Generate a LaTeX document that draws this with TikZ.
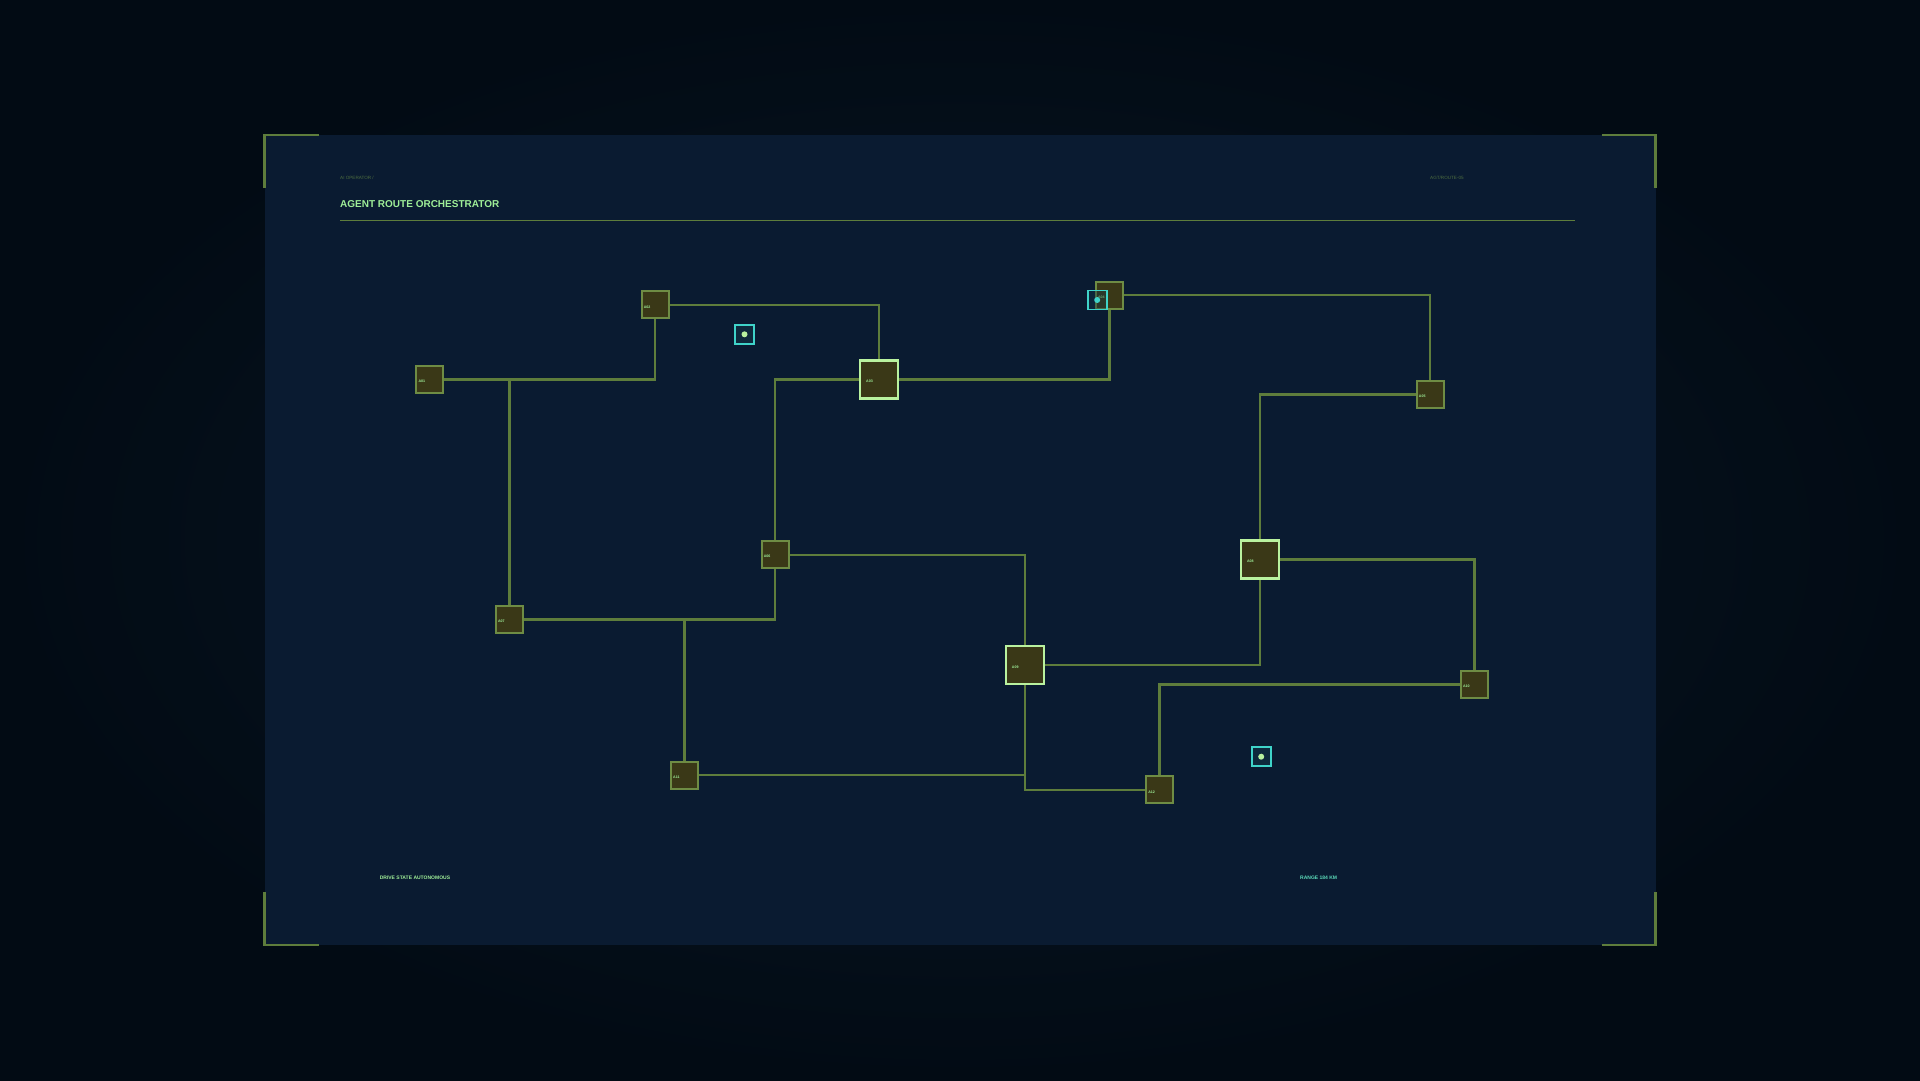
\documentclass[tikz,border=0pt]{standalone}
\usepackage{fontspec}
\setmainfont{Liberation Sans}
\usetikzlibrary{positioning}
\definecolor{bgout}{HTML}{020B14}
\definecolor{bgin}{HTML}{0A1828}
\definecolor{panel}{HTML}{0A1B31}
\definecolor{wire}{HTML}{5E7D3C}
\definecolor{nodefill}{HTML}{3A3817}
\definecolor{nodeedge}{HTML}{6E8C44}
\definecolor{hot}{HTML}{B9F29F}
\definecolor{cyanx}{HTML}{3FD3C9}
\definecolor{title}{HTML}{9FEF98}
\definecolor{dim}{HTML}{4E6E40}
\tikzset{
  x=1pt,y=-1pt,
  wireline/.style={draw=wire,line width=2.4pt},
  box/.style={draw=nodeedge,fill=nodefill,line width=2pt,minimum size=27pt,inner sep=0pt},
  bigbox/.style={draw=hot,fill=nodefill,line width=2.4pt,minimum size=38pt,inner sep=0pt},
  lab/.style={font=\fontsize{3.6}{4}\selectfont\bfseries,text=title,inner sep=0pt,anchor=west},
  marker/.style={draw=cyanx,fill=cyanx!15!panel,line width=1.6pt,minimum size=19pt,inner sep=0pt},
  dotc/.style={circle,fill=hot,minimum size=6pt,inner sep=0pt},
  bracket/.style={draw=wire,line width=2.2pt},
}
\begin{document}
\begin{tikzpicture}
\useasboundingbox (0,0) rectangle (1920,1080);
\shade[inner color=bgin,outer color=bgout] (0,0) rectangle (1920,1080);
\fill[panel] (264.5,134.7) rectangle (1655.5,945.3);
% corner brackets
\draw[bracket] (264.5,188) -- (264.5,134.7) -- (318.5,134.7);
\draw[bracket] (1601.5,134.7) -- (1655.5,134.7) -- (1655.5,188);
\draw[bracket] (264.5,892) -- (264.5,945.3) -- (318.5,945.3);
\draw[bracket] (1601.5,945.3) -- (1655.5,945.3) -- (1655.5,892);
% header
\node[anchor=west,inner sep=0pt,text=dim,font=\fontsize{4.6}{5}\selectfont] (hdrl) at (340,177.5) {AI OPERATOR /};
\node[anchor=west,inner sep=0pt,text=dim,font=\fontsize{4.6}{5}\selectfont] (hdrr) at (1430,177.5) {AGT/ROUTE-05};
\node[anchor=west,inner sep=0pt,text=title,font=\fontsize{10}{12}\selectfont\bfseries] (ttl) at (340,204.5) {AGENT ROUTE ORCHESTRATOR};
\draw[draw=wire,line width=1.6pt] (340,220.4) -- (1575,220.4);
% footer
\node[anchor=west,inner sep=0pt,text=title,font=\fontsize{5}{6}\selectfont\bfseries] (ftl) at (379.6,878) {DRIVE STATE AUTONOMOUS};
\node[anchor=west,inner sep=0pt,text=cyanx!70!title,font=\fontsize{5}{6}\selectfont\bfseries] (ftr) at (1300,878) {RANGE 184 KM};
% junction coordinates
\coordinate (jab) at (655.1,379.6);
\coordinate (jag) at (509.4,379.6);
\coordinate (jbc) at (879.2,304.9);
\coordinate (jcf) at (775.1,379.6);
\coordinate (jcd) at (1109.4,379.6);
\coordinate (jde) at (1430.2,295.1);
\coordinate (jeh) at (1260.0,394.3);
\coordinate (jfi) at (1024.9,554.7);
\coordinate (jfg) at (775.1,619.6);
\coordinate (jgk) at (684.5,619.6);
\coordinate (jki) at (1024.9,775.1);
\coordinate (jil) at (1024.9,789.8);
\coordinate (jih) at (1260.0,664.9);
\coordinate (jhj) at (1474.3,559.6);
\coordinate (jjl) at (1159.6,684.5);
% nodes (positions)
\coordinate (pa) at (429.8,379.6);
\coordinate (pb) at (655.1,304.9);
\coordinate (pc) at (879.2,379.6);
\coordinate (pd) at (1109.4,295.1);
\coordinate (pe) at (1430.2,394.3);
\coordinate (pf) at (775.1,554.7);
\coordinate (pg) at (509.4,619.6);
\coordinate (ph) at (1260.0,559.6);
\coordinate (pi) at (1024.9,664.9);
\coordinate (pj) at (1474.3,684.5);
\coordinate (pk) at (684.5,775.1);
\coordinate (pl) at (1159.6,789.8);
% wires
\draw[wireline] (pa) -- (jab) -- (pb);
\draw[wireline] (jag) -- (pg);
\draw[wireline] (pb) -- (jbc) -- (pc);
\draw[wireline] (pc) -- (jcf) -- (pf);
\draw[wireline] (pc) -- (jcd) -- (pd);
\draw[wireline] (pd) -- (jde) -- (pe);
\draw[wireline] (pe) -- (jeh) -- (ph);
\draw[wireline] (pf) -- (jfi) -- (pi);
\draw[wireline] (pf) -- (jfg) -- (pg);
\draw[wireline] (jgk) -- (pk);
\draw[wireline] (pk) -- (jki) -- (pi);
\draw[wireline] (pi) -- (jil) -- (pl);
\draw[wireline] (pi) -- (jih) -- (ph);
\draw[wireline] (ph) -- (jhj) -- (pj);
\draw[wireline] (pj) -- (jjl) -- (pl);
% boxes
\node[box] (na) at (pa) {};
\node[box] (nb) at (pb) {};
\node[bigbox] (nc) at (pc) {};
\node[box] (nd) at (pd) {};
\node[box] (ne) at (pe) {};
\node[box] (nf) at (pf) {};
\node[box] (ng) at (pg) {};
\node[bigbox] (nh) at (ph) {};
\node[bigbox] (ni) at (pi) {};
\node[box] (nj) at (pj) {};
\node[box] (nk) at (pk) {};
\node[box] (nl) at (pl) {};
% labels
\node[lab] (la) at ([xshift=3pt,yshift=-2pt]na.west) {A01};
\node[lab] (lb) at ([xshift=3pt,yshift=-2pt]nb.west) {A02};
\node[lab] (lc) at ([xshift=7pt,yshift=-2pt]nc.west) {A03};
\node[lab] (ld) at ([xshift=3pt,yshift=-2pt]nd.west) {A04};
\node[lab] (le) at ([xshift=3pt,yshift=-2pt]ne.west) {A05};
\node[lab] (lf) at ([xshift=3pt,yshift=-2pt]nf.west) {A06};
\node[lab] (lg) at ([xshift=3pt,yshift=-2pt]ng.west) {A07};
\node[lab] (lh) at ([xshift=7pt,yshift=-2pt]nh.west) {A08};
\node[lab] (li) at ([xshift=7pt,yshift=-2pt]ni.west) {A09};
\node[lab] (lj) at ([xshift=3pt,yshift=-2pt]nj.west) {A10};
\node[lab] (lk) at ([xshift=3pt,yshift=-2pt]nk.west) {A11};
\node[lab] (ll) at ([xshift=3pt,yshift=-2pt]nl.west) {A12};
% cyan markers
\node[marker,fill opacity=0.5,text opacity=1] (m1) at (744.5,334.3) {};
\node[dotc] (d1) at (m1) {};
\node[marker,fill opacity=0.5] (m2) at (1261.2,756.7) {};
\node[dotc] (d2) at (m2) {};
\node[marker,fill opacity=0.4] (m3) at (1097.2,300) {};
\node[dotc,fill=cyanx] (d3) at (m3) {};
\end{tikzpicture}
\end{document}
